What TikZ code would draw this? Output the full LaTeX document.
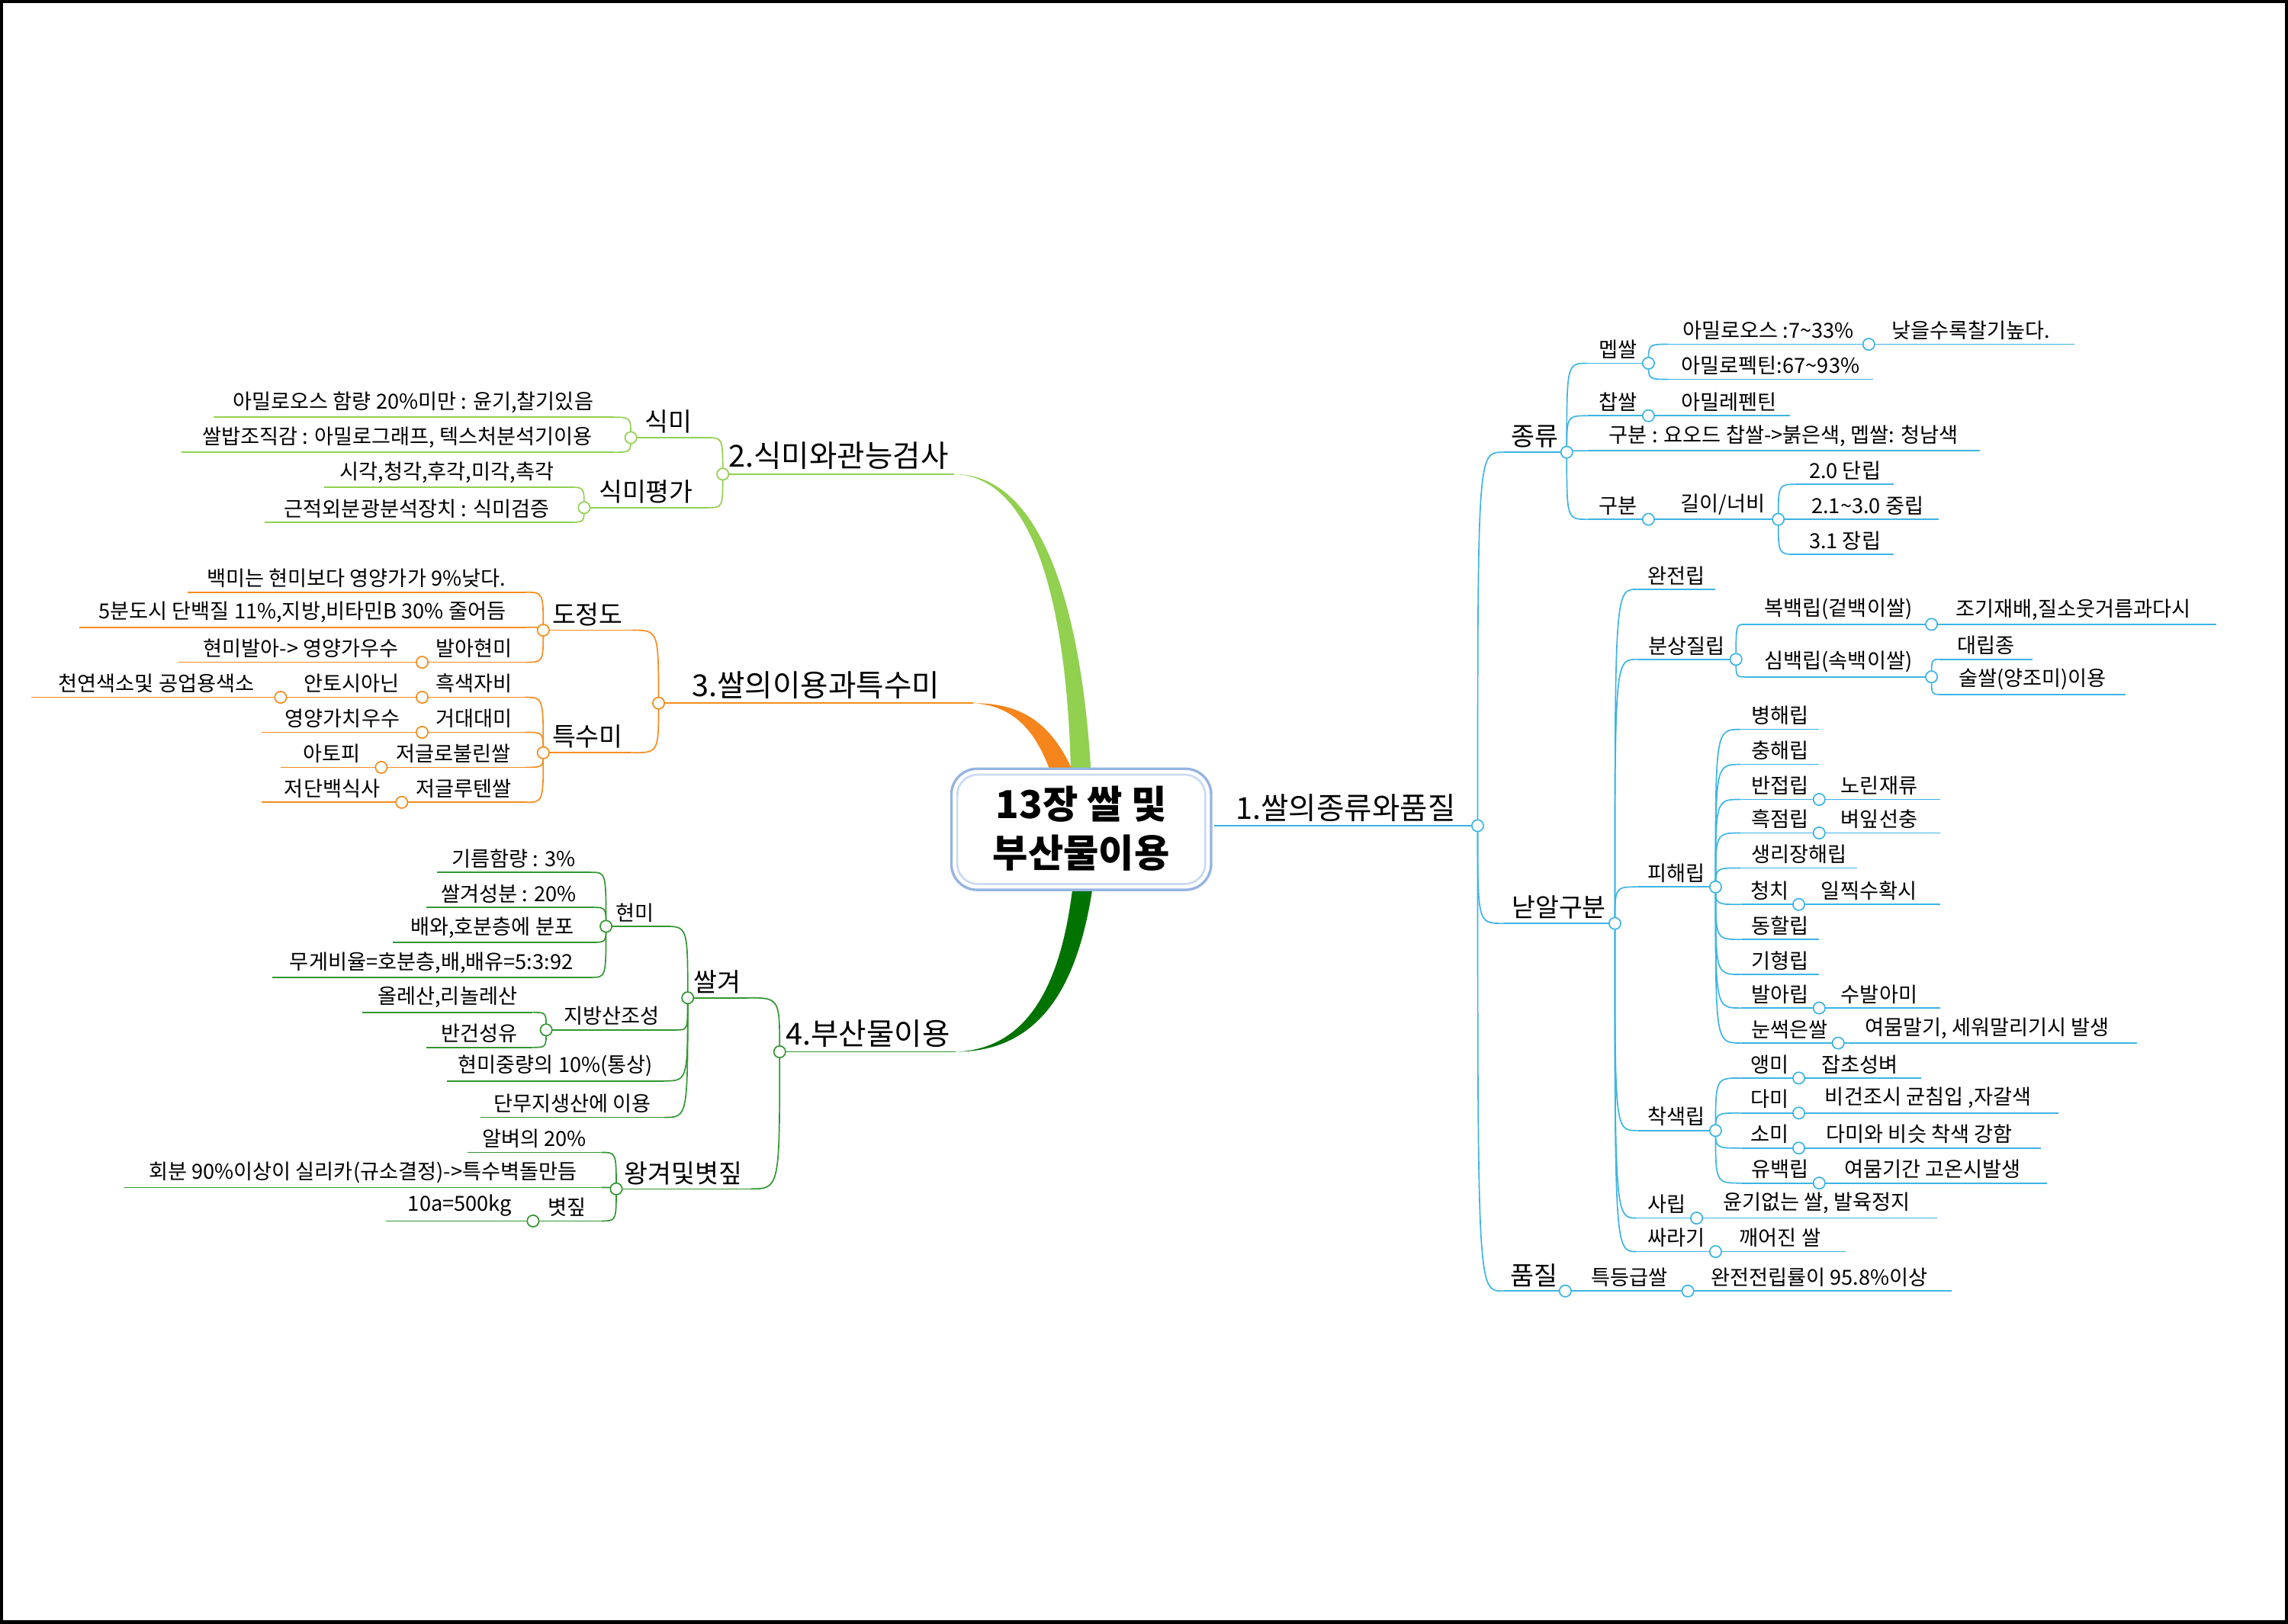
\documentclass[tikz,border=0pt]{standalone}
\usepackage{fontspec}
\setmainfont{Noto Sans CJK KR}
\usepackage{tikz}
\definecolor{blu}{RGB}{60,180,228}
\definecolor{lgr}{RGB}{146,208,80}
\definecolor{org}{RGB}{245,140,30}
\definecolor{dgr}{RGB}{50,150,50}
\definecolor{boxc}{RGB}{150,180,225}

\begin{document}
\begin{tikzpicture}
    [
    x=0.02cm, y=-0.02cm,
    every node/.style={font=\fontsize{8.1}{9}\selectfont, inner xsep=1pt, inner ysep=1.5pt},
    ln/.style={draw=#1, line width=0.5pt},
    rb/.style={anchor=south west, append after command={(\tikzlastnode.south west) edge[ln=#1] (\tikzlastnode.south east)}},
    lb/.style={anchor=south east, append after command={(\tikzlastnode.south west) edge[ln=#1] (\tikzlastnode.south east)}},
    big/.style={font=\fontsize{10}{11}\selectfont},
    top/.style={font=\fontsize{11.8}{13}\selectfont},
    dot/.style={draw=#1, fill=white, line width=0.5pt}
    ]
    \useasboundingbox (0,0) rectangle (1568,1113);
    \draw [line width=1.5pt] (1,1) rectangle (1567,1112);

    % right branch
    \node (t1) at (832,566) [rb=blu, top, minimum width=3.6cm] {1.쌀의종류와품질};
    \node (jr) at (1030,310) [rb=blu, big, minimum width=0.86cm] {종류};
    \node (nd) at (1030,633) [rb=blu, big, minimum width=1.52cm] {낟알구분};
    \node (pq) at (1030,885) [rb=blu, big, minimum width=0.84cm] {품질};
    \node (meb) at (1088,249) [rb=blu, minimum width=0.82cm] {멥쌀};
    \node (chap) at (1088,285) [rb=blu, minimum width=0.82cm] {찹쌀};
    \node (gbi) at (1088,309) [rb=blu, minimum width=5.36cm] {구분 : 요오드 찹쌀->붉은색, 멥쌀: 청남색};
    \node (gb) at (1088,356) [rb=blu, minimum width=0.82cm] {구분};
    \node (amy) at (1143,236) [rb=blu, minimum width=2.74cm] {아밀로오스 :7\textasciitilde33\%};
    \node (low) at (1280,236) [rb=blu, minimum width=2.82cm] {낮을수록찰기높다.};
    \node (amp) at (1143,260) [rb=blu, minimum width=2.8cm] {아밀로펙틴:67\textasciitilde93\%};
    \node (amr) at (1143,285) [rb=blu, minimum width=1.66cm] {아밀레펜틴};
    \node (ratio) at (1143,356) [rb=blu, minimum width=1.5cm] {길이/너비};
    \node (r20) at (1231,332) [rb=blu, minimum width=1.32cm] {2.0 단립};
    \node (r21) at (1231,356) [rb=blu, minimum width=1.94cm] {2.1\textasciitilde3.0 중립};
    \node (r31) at (1231,380) [rb=blu, minimum width=1.32cm] {3.1 장립};
    \node (wj) at (1122,404) [rb=blu, minimum width=1.06cm] {완전립};
    \node (bs) at (1122,452) [rb=blu, minimum width=1.34cm] {분상질립};
    \node (ph) at (1122,608) [rb=blu, minimum width=1.06cm] {피해립};
    \node (cs) at (1122,775) [rb=blu, minimum width=1.06cm] {착색립};
    \node (sr) at (1122,835) [rb=blu, minimum width=0.8cm] {사립};
    \node (ssr) at (1122,858) [rb=blu, minimum width=1.06cm] {싸라기};
    \node (bb) at (1196,428) [rb=blu, minimum width=2.54cm] {복백립(겉백이쌀)};
    \node (early) at (1323,428) [rb=blu, minimum width=3.9cm] {조기재배,질소웃거름과다시};
    \node (sb) at (1196,464) [rb=blu, minimum width=2.54cm] {심백립(속백이쌀)};
    \node (bigg) at (1329,452) [rb=blu, minimum width=1.26cm] {대립종};
    \node (sul) at (1329,476) [rb=blu, minimum width=2.54cm] {술쌀(양조미)이용};
    \node (bh) at (1193,500) [rb=blu, minimum width=1.06cm] {병해립};
    \node (ch) at (1193,524) [rb=blu, minimum width=1.06cm] {충해립};
    \node (bj) at (1193,548) [rb=blu, minimum width=1.06cm] {반접립};
    \node (nr) at (1246,548) [rb=blu, minimum width=1.66cm] {노린재류};
    \node (hj) at (1193,571) [rb=blu, minimum width=1.06cm] {흑점립};
    \node (byp) at (1246,571) [rb=blu, minimum width=1.66cm] {벼잎선충};
    \node (sl) at (1193,595) [rb=blu, minimum width=1.58cm] {생리장해립};
    \node (cc) at (1193,620) [rb=blu, minimum width=0.78cm] {청치};
    \node (ij) at (1232,620) [rb=blu, minimum width=1.94cm] {일찍수확시};
    \node (dh) at (1193,644) [rb=blu, minimum width=1.06cm] {동할립};
    \node (gh) at (1193,668) [rb=blu, minimum width=1.06cm] {기형립};
    \node (ba) at (1193,691) [rb=blu, minimum width=1.06cm] {발아립};
    \node (sba) at (1246,691) [rb=blu, minimum width=1.66cm] {수발아미};
    \node (ns) at (1193,715) [rb=blu, minimum width=1.32cm] {눈썩은쌀};
    \node (ym) at (1259,715) [rb=blu, minimum width=4.1cm] {여뭄말기, 세워말리기시 발생};
    \node (aem) at (1193,739) [rb=blu, minimum width=0.78cm] {앵미};
    \node (jc) at (1232,739) [rb=blu, minimum width=1.68cm] {잡초성벼};
    \node (dam) at (1193,763) [rb=blu, minimum width=0.78cm] {다미};
    \node (bg) at (1232,763) [rb=blu, minimum width=3.56cm] {비건조시 균침입 ,자갈색};
    \node (som) at (1193,787) [rb=blu, minimum width=0.78cm] {소미};
    \node (dms) at (1232,787) [rb=blu, minimum width=3.32cm] {다미와 비슷 착색 강함};
    \node (yb) at (1193,811) [rb=blu, minimum width=1.06cm] {유백립};
    \node (yg) at (1246,811) [rb=blu, minimum width=3.12cm] {여뭄기간 고온시발생};
    \node (ug) at (1162,835) [rb=blu, minimum width=3.3cm] {윤기없는 쌀, 발육정지};
    \node (kj) at (1175,858) [rb=blu, minimum width=1.78cm] {깨어진 쌀};
    \node (tdg) at (1077,885) [rb=blu, minimum width=1.58cm] {특등급쌀};
    \node (wjr) at (1156,885) [rb=blu, minimum width=3.62cm] {완전전립률이 95.8\%이상};

    % left branches
    \node (t2) at (654,325) [lb=lgr, top, minimum width=3.16cm] {2.식미와관능검사};
    \node (sm) at (484,300) [lb=lgr, big, minimum width=1.02cm] {식미};
    \node (smp) at (485,348) [lb=lgr, big, minimum width=1.68cm] {식미평가};
    \node (a20) at (420,286) [lb=lgr, minimum width=5.46cm] {아밀로오스 함량 20\%미만 : 윤기,찰기있음};
    \node (bap) at (420,310) [lb=lgr, minimum width=5.9cm] {쌀밥조직감 : 아밀로그래프, 텍스처분석기이용};
    \node (sg) at (390,334) [lb=lgr, minimum width=3.34cm] {시각,청각,후각,미각,촉각};
    \node (nir) at (390,358) [lb=lgr, minimum width=4.16cm] {근적외분광분석장치 : 식미검증};

    \node (t3) at (667,482) [lb=org, top, minimum width=4.3cm] {3.쌀의이용과특수미};
    \node (dj) at (433,432) [lb=org, big, minimum width=1.2cm] {도정도};
    \node (ts) at (433,516) [lb=org, big, minimum width=1.2cm] {특수미};
    \node (bm1) at (360,406) [lb=org, minimum width=4.62cm] {백미는 현미보다 영양가가 9\%낮다.};
    \node (bun5) at (360,430) [lb=org, minimum width=6.1cm] {5분도시 단백질 11\%,지방,비타민B 30\% 줄어듬};
    \node (bahm) at (360,454) [lb=org, minimum width=1.4cm] {발아현미};
    \node (hmb) at (290,454) [lb=org, minimum width=3.34cm] {현미발아-> 영양가우수};
    \node (hs) at (360,478) [lb=org, minimum width=1.4cm] {흑색자비};
    \node (anto) at (290,478) [lb=org, minimum width=1.94cm] {안토시아닌};
    \node (nat) at (193,478) [lb=org, minimum width=3.42cm] {천연색소및 공업용색소};
    \node (gd) at (360,502) [lb=org, minimum width=1.4cm] {거대대미};
    \node (ygu) at (290,502) [lb=org, minimum width=2.2cm] {영양가치우수};
    \node (jgr) at (360,526) [lb=org, minimum width=1.96cm] {저글로불린쌀};
    \node (ato) at (262,526) [lb=org, minimum width=1.38cm] {아토피};
    \node (jgt) at (360,550) [lb=org, minimum width=1.68cm] {저글루텐쌀};
    \node (jds) at (276,550) [lb=org, minimum width=1.92cm] {저단백식사};

    \node (t4) at (655,721) [lb=dgr, top, minimum width=2.4cm] {4.부산물이용};
    \node (bran) at (512,684) [lb=dgr, big, minimum width=0.8cm] {쌀겨};
    \node (wg) at (514,815) [lb=dgr, big, minimum width=1.82cm] {왕겨및볏짚};
    \node (hm) at (455,635) [lb=dgr, minimum width=0.78cm] {현미};
    \node (jbs) at (464,706) [lb=dgr, minimum width=1.78cm] {지방산조성};
    \node (hmj) at (455,741) [lb=dgr, minimum width=2.96cm] {현미중량의 10\%(통상)};
    \node (dmj) at (455,766) [lb=dgr, minimum width=2.5cm] {단무지생산에 이용};
    \node (oil) at (405,598) [lb=dgr, minimum width=2.1cm] {기름함량 : 3\%};
    \node (bcs) at (405,622) [lb=dgr, minimum width=2.24cm] {쌀겨성분 : 20\%};
    \node (bho) at (405,646) [lb=dgr, minimum width=2.7cm] {배와,호분층에 분포};
    \node (mgb) at (405,670) [lb=dgr, minimum width=4.36cm] {무게비율=호분층,배,배유=5:3:92};
    \node (ole) at (365,694) [lb=dgr, minimum width=2.32cm] {올레산,리놀레산};
    \node (bgs) at (365,718) [lb=dgr, minimum width=1.44cm] {반건성유};
    \node (ab20) at (412,790) [lb=dgr, minimum width=1.82cm] {알벼의 20\%};
    \node (hb) at (412,814) [lb=dgr, minimum width=6.52cm] {회분 90\%이상이 실리카(규소결정)->특수벽돌만듬};
    \node (straw) at (412,837) [lb=dgr, minimum width=0.92cm] {볏짚};
    \node (kg) at (366,837) [lb=dgr, minimum width=2.02cm] {10a=500kg};

    % connectors
    \foreach \p/\c in {t1/jr,t1/nd,t1/pq,jr/meb,jr/chap,jr/gbi,jr/gb,meb/amy,meb/amp,amy/low,chap/amr,gb/ratio,
      ratio/r20,ratio/r21,ratio/r31,nd/wj,nd/bs,nd/ph,nd/cs,nd/sr,nd/ssr,bs/bb,bs/sb,bb/early,sb/bigg,sb/sul,
      ph/bh,ph/ch,ph/bj,ph/hj,ph/sl,ph/cc,ph/dh,ph/gh,ph/ba,ph/ns,bj/nr,hj/byp,cc/ij,ba/sba,ns/ym,
      cs/aem,cs/dam,cs/som,cs/yb,aem/jc,dam/bg,som/dms,yb/yg,sr/ug,ssr/kj,pq/tdg,tdg/wjr}
      \draw [ln=blu] (\p.south east) .. controls (\p.south east |- \c.south west) .. (\c.south west);
    \foreach \p/\c/\k in {t2/sm/lgr,t2/smp/lgr,sm/a20/lgr,sm/bap/lgr,smp/sg/lgr,smp/nir/lgr,
      t3/dj/org,t3/ts/org,dj/bm1/org,dj/bun5/org,dj/bahm/org,bahm/hmb/org,ts/hs/org,ts/gd/org,ts/jgr/org,ts/jgt/org,
      hs/anto/org,anto/nat/org,gd/ygu/org,jgr/ato/org,jgt/jds/org,
      t4/bran/dgr,t4/wg/dgr,bran/hm/dgr,bran/jbs/dgr,bran/hmj/dgr,bran/dmj/dgr,hm/oil/dgr,hm/bcs/dgr,hm/bho/dgr,
      hm/mgb/dgr,jbs/ole/dgr,jbs/bgs/dgr,wg/ab20/dgr,wg/hb/dgr,wg/straw/dgr,straw/kg/dgr}
      \draw [ln=\k] (\p.south west) .. controls (\p.south west |- \c.south east) .. (\c.south east);

    % thick main curves
    \fill [lgr] (t2.south east) .. controls (715,325) and (742,420) .. (748,535) -- (734,535) .. controls (732,425) and (712,327) .. (t2.south east);
    \fill [org!95!red] (t3.south east) .. controls (700,482) and (722,495) .. (738,535) -- (722,535) .. controls (712,505) and (698,484) .. (t3.south east);
    \fill [green!45!black] (t4.south east) .. controls (722,721) and (742,660) .. (750,600) -- (736,600) .. controls (730,660) and (712,719) .. (t4.south east);

    % junction circles
    \foreach \p in {t1,jr,meb,amy,chap,gb,ratio,nd,bs,bb,sb,ph,bj,hj,cc,ba,ns,cs,aem,dam,som,yb,sr,ssr,pq,tdg}
      \draw [dot=blu] (\p.south east) circle [radius=4];
    \foreach \p/\k in {t2/lgr,sm/lgr,smp/lgr,t3/org,dj/org,ts/org,bahm/org,hs/org,anto/org,gd/org,jgr/org,jgt/org,
      t4/dgr,bran/dgr,hm/dgr,jbs/dgr,wg/dgr,straw/dgr}
      \draw [dot=\k] (\p.south west) circle [radius=4];

    % centre
    \draw [boxc, line width=1pt, fill=white, rounded corners=10] (652,527) rectangle (830,610);
    \draw [boxc!50, line width=0.8pt, rounded corners=8] (656,531) rectangle (826,606);
    \node (ctr) at (741,568) [align=center, font=\fontsize{15}{19}\selectfont\bfseries] {13장 쌀 및\\ 부산물이용};
\end{tikzpicture}
\end{document}
